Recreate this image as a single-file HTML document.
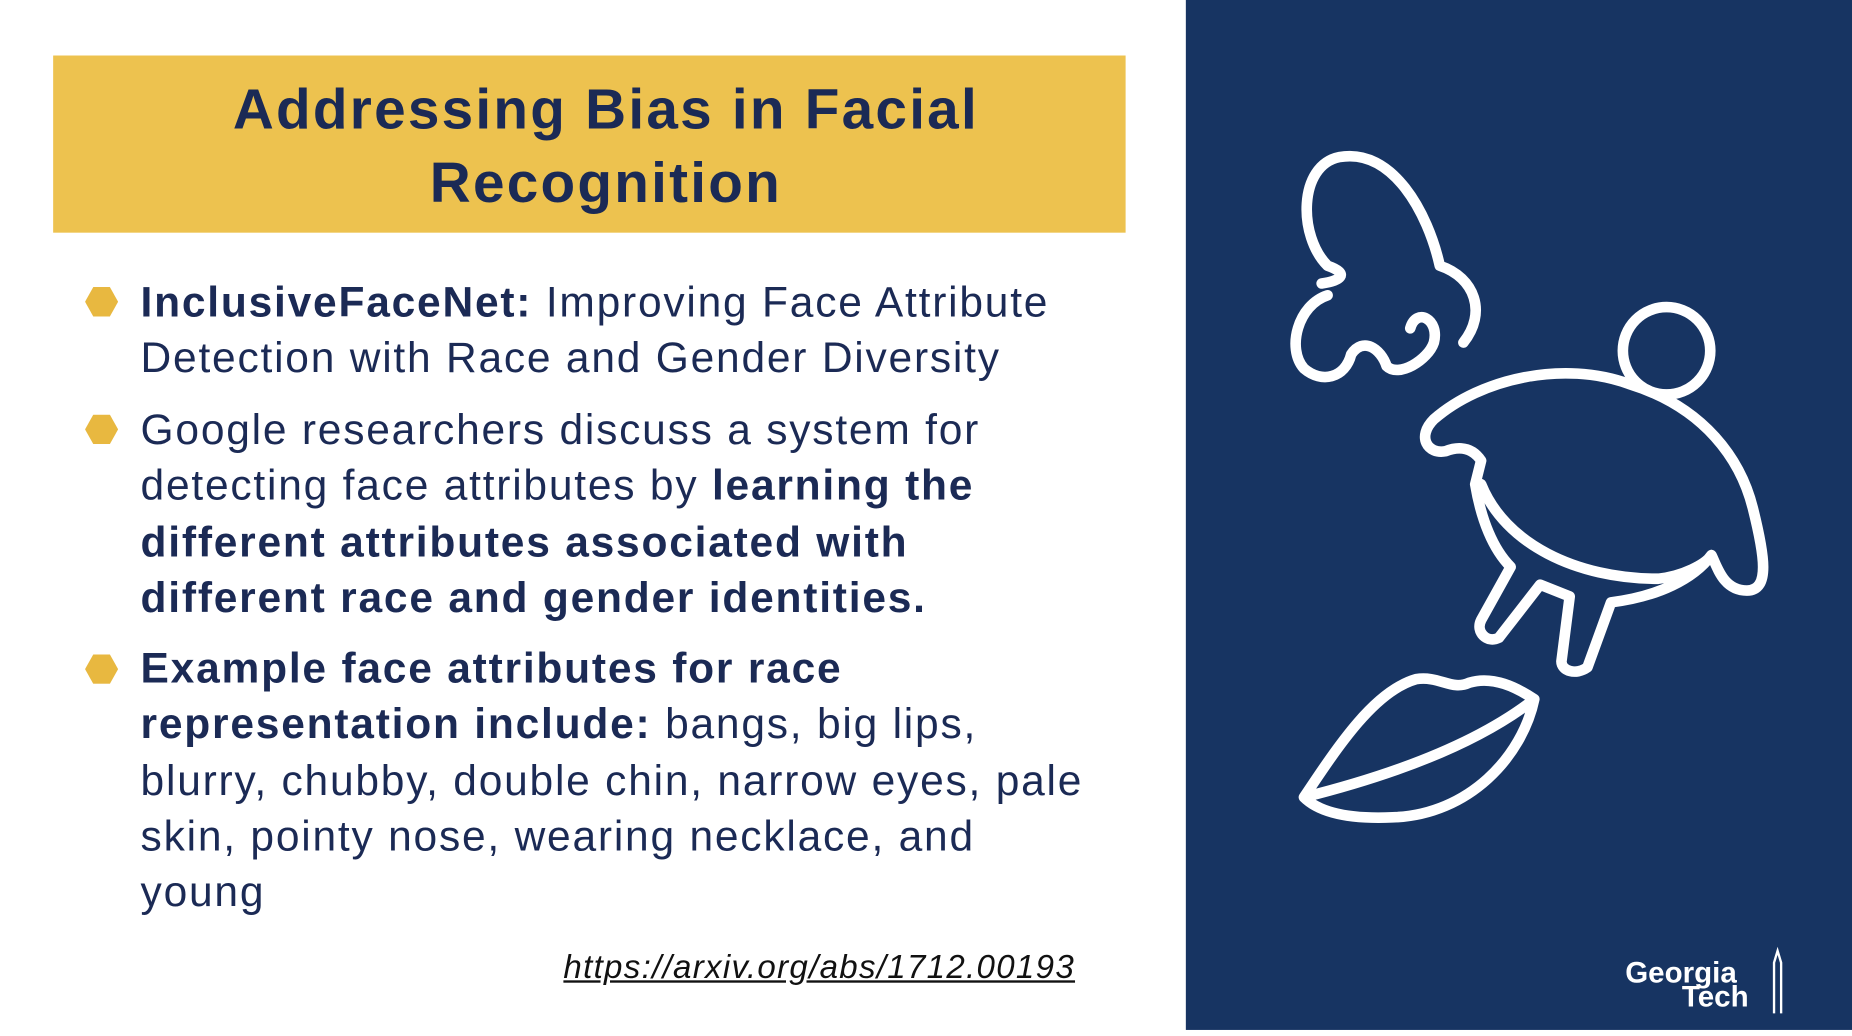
<!DOCTYPE html>
<html><head><meta charset="utf-8"><style>
html,body{margin:0;padding:0;width:1852px;height:1030px;overflow:hidden;background:#fff}
#s{position:absolute;left:0;top:0;width:1568px;height:872px;transform:scale(1.18112);transform-origin:0 0;font-family:"Liberation Sans",sans-serif;color:#1b2a55}
.title{position:absolute;left:45px;top:47px;width:908px;height:150px;background:#edc24f;text-align:center;font-weight:bold;font-size:48px;line-height:62px;box-sizing:border-box;padding-top:16px;padding-left:28px;letter-spacing:1.9px}
.panel{position:absolute;left:1004px;top:0;width:564px;height:872px;background:#173462}
.b{position:absolute;left:119px;font-size:36px;line-height:47.3px;width:900px;white-space:nowrap;letter-spacing:1.5px}
.hex{position:absolute;left:72px;width:28px;height:25px;background:#e8b840;clip-path:polygon(25% 0,75% 0,100% 50%,75% 100%,25% 100%,0 50%)}
.url{position:absolute;left:477px;top:803px;font-size:28px;font-style:italic;text-decoration:underline;color:#111;letter-spacing:1.1px}
</style></head><body>
<div id="s">
<div class="title">Addressing Bias in Facial<br>Recognition</div>
<div class="hex" style="top:243px"></div>
<div class="b" style="top:232px"><b>InclusiveFaceNet:</b> Improving Face Attribute<br>Detection with Race and Gender Diversity</div>
<div class="hex" style="top:351px"></div>
<div class="b" style="top:340px">Google researchers discuss a system for<br>detecting face attributes by <b>learning the<br>different attributes associated with<br>different race and gender identities.</b></div>
<div class="hex" style="top:554px"></div>
<div class="b" style="top:542px"><b>Example face attributes for race<br>representation include:</b> bangs, big lips,<br>blurry, chubby, double chin, narrow eyes, pale<br>skin, pointy nose, wearing necklace, and<br>young</div>
<div class="url">https://arxiv.org/abs/1712.00193</div>
<div class="panel">
<svg width="564" height="872">
<g fill="none" stroke="#fff" stroke-width="9" stroke-linecap="round" stroke-linejoin="round">
<path d="M120 225 C95 200 95 140 130 133 C175 125 205 180 215 225 C245 235 255 265 235 290 M120 225 C140 232 130 238 115 240 M120 250 C95 258 85 295 100 312 C115 325 135 320 140 300 C150 285 165 295 170 310 C180 320 205 305 210 290 C215 270 195 260 190 278"/>
<circle cx="407" cy="297" r="37"/>
<path d="M210 355 C250 320 320 305 375 325 C440 345 470 390 480 430 C490 470 495 500 475 500 C455 500 450 480 445 470 C430 490 400 505 360 510 L340 565 C330 572 318 568 318 560 L325 505 L300 495 L265 540 C255 545 245 535 250 525 L275 480 C260 465 250 440 245 410 L250 390 C240 375 225 380 220 382 C205 385 195 370 210 355 Z M250 410 C270 460 330 490 400 490 C420 488 440 478 445 470"/>
<path d="M100 675 C130 630 160 585 195 575 C215 572 225 585 240 578 C260 572 280 582 295 592 C285 640 240 690 175 692 C130 694 110 685 100 675 Z M100 675 C160 660 240 635 295 592"/>
</g>
<text x="372" y="832" fill="#fff" font-family="Liberation Sans,sans-serif" font-weight="bold" font-size="25">Georgia</text>
<text x="420" y="852" fill="#fff" font-family="Liberation Sans,sans-serif" font-weight="bold" font-size="25">Tech</text>
<path d="M498 858 L498 815 L501 805 L504 815 L504 858" fill="none" stroke="#fff" stroke-width="2"/>
</svg>
</div>
</div>
</body></html>
